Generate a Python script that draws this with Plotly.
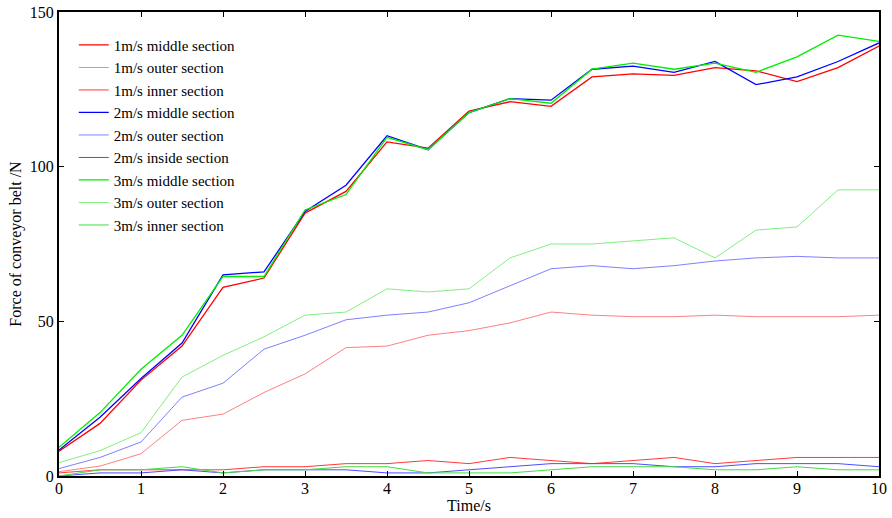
import plotly.graph_objects as go

time_s = [0, 0.5, 1, 1.5, 2, 2.5, 3, 3.5, 4, 4.5, 5, 5.5, 6, 6.5, 7, 7.5, 8, 8.5, 9, 9.5, 10]

v1_middle = [8, 17, 31, 42, 61, 64, 85, 92, 108, 106, 118, 121, 119.5, 129, 130, 129.5, 132, 131, 127.5, 132, 139]
v1_outer = [1.4, 3.2, 7.2, 18, 20, 27, 33, 41.5, 42, 45.5, 47, 49.5, 53, 52, 51.5, 51.5, 52, 51.5, 51.5, 51.5, 52]
v1_inner = [1, 2, 2, 2, 2, 3, 3, 4, 4, 5, 4, 6, 5, 4, 5, 6, 4, 5, 6, 6, 6]
v2_middle = [8.4, 19, 31.5, 43, 65, 66, 85.5, 94, 110, 105.5, 117.5, 122, 121.5, 131.5, 132.5, 130.5, 134, 126.5, 129, 134, 140]
v2_outer = [2.4, 6, 11, 25.5, 30, 41, 45.5, 50.5, 52, 53, 56, 61.5, 67, 68, 67, 68, 69.5, 70.5, 71, 70.5, 70.5]
v2_inner = [0, 1, 1, 2, 1, 2, 2, 2, 1, 1, 2, 3, 4, 4, 4, 3, 3, 4, 4, 4, 3]
v3_middle = [9.3, 20.5, 34.5, 45.5, 64.5, 64.5, 86, 91, 109.5, 105.5, 117.5, 122, 120.5, 131.5, 133.5, 131.5, 133.5, 130.5, 135.5, 142.5, 140.5]
v3_outer = [4.3, 8.2, 14, 32, 39, 45, 52, 53, 60.5, 59.5, 60.5, 70.5, 75, 75, 76, 77, 70.5, 79.5, 80.5, 92.5, 92.5]
v3_inner = [0, 2, 2, 3, 1, 2, 2, 3, 3, 1, 1, 1, 2, 3, 3, 3, 2, 2, 3, 2, 2]

series = [
    ("1m/s middle section", v1_middle, "#ff0000", 1.3),
    ("1m/s outer section", v1_outer, "#ff8080", 1.0),
    ("1m/s inner section", v1_inner, "#ff3a3a", 1.0),
    ("2m/s middle section", v2_middle, "#0000ff", 1.3),
    ("2m/s outer section", v2_outer, "#8080ff", 1.0),
    ("2m/s inside section", v2_inner, "#4d4dff", 1.0),
    ("3m/s middle section", v3_middle, "#00ee00", 1.3),
    ("3m/s outer section", v3_outer, "#80f080", 1.0),
    ("3m/s inner section", v3_inner, "#40dd40", 1.0),
]

fig = go.Figure()
for name, ys, color, w in series:
    fig.add_trace(go.Scatter(x=time_s, y=ys, name=name, mode="lines",
                             line=dict(color=color, width=w)))

font_family = "Liberation Serif, Times New Roman, serif"
axis_common = dict(
    showline=True, linecolor="black", linewidth=2, mirror="ticks",
    ticks="inside", ticklen=5, tickcolor="black", tickwidth=1,
    showgrid=False, zeroline=False, automargin=False,
    tickfont=dict(family=font_family, size=16, color="black"),
)

fig.update_layout(
    width=892, height=518,
    margin=dict(l=59, r=13, t=12, b=42),
    paper_bgcolor="white", plot_bgcolor="white",
    font=dict(family=font_family, size=15, color="black"),
    xaxis=dict(range=[0, 10], dtick=1, ticklabelstandoff=-3,
               title=dict(text="Time/s", font=dict(family=font_family, size=16), standoff=0),
               **axis_common),
    yaxis=dict(range=[0, 150], dtick=50, ticklabeloverflow="allow",
               title=dict(text="Force of conveyor belt /N", font=dict(family=font_family, size=16), standoff=4),
               **axis_common),
    legend=dict(x=0.018, y=0.964, xanchor="left", yanchor="top",
                bgcolor="rgba(255,255,255,0)", borderwidth=0,
                font=dict(family=font_family, size=15),
                tracegroupgap=0, itemwidth=30),
    showlegend=True,
)

fig.write_html("out.html", config={"displayModeBar": False},
               post_script="document.body.style.margin='0';")
